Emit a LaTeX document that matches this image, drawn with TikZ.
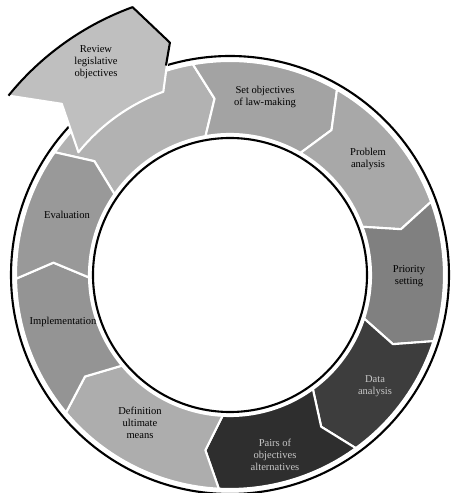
\documentclass[tikz,border=0pt]{standalone}
\usepackage{fontspec}
\setmainfont{Liberation Serif}

\begin{document}
\begin{tikzpicture}[
  x=0.02cm, y=0.02cm,
  every node/.style={font=\fontsize{6}{6.8}\selectfont, align=center},
  seg/.style={draw=white, line width=1.2pt, line join=round},
  rim/.style={draw=black, line width=1.2pt},
  lbl/.style={text=black},
  lbldark/.style={text=black!22}
]
  \useasboundingbox (-230,-218) rectangle (224,275);

  % ring of steps
  \draw[rim, fill=white] (0,0) circle[radius=219];
  \foreach \ta/\hd/\tone in {145/100/30, 100/60/36, 60/20/34, 20/-18/50, -18/-54/76, -54/-93/82, -93/-140/32, -140/-179/42, 181/145/40}
    \filldraw[seg, fill=black!\tone] (\ta:214) arc[start angle=\ta, end angle=\hd, radius=214]
      -- ({\hd-5}:177) -- (\hd:141) arc[start angle=\hd, end angle=\ta, radius=141]
      -- ({\ta-5}:177) -- cycle;
  \draw[rim, fill=white] (0,0) circle[radius=137];

  % review arrow leaving the ring
  \filldraw[seg, fill=black!25] (141:285) arc[start angle=141, end angle=110, radius=285]
    -- (104.5:240) -- (110:195) arc[start angle=110, end angle=141, radius=195]
    -- (134.5:240) -- cycle;
  \draw[rim, line join=round] (141:285) arc[start angle=141, end angle=110, radius=285]
    -- (104.5:240) -- (107:219);

  \node[lbl] (review) at (-134,213) {Review\\legislative\\objectives};
  \node[lbl] (setobj) at (35,178) {Set objectives\\of law-making};
  \node[lbl] (problem) at (138,116) {Problem\\analysis};
  \node[lbl] (priority) at (179,-1) {Priority\\setting};
  \node[lbldark] (data) at (145,-111) {Data\\analysis};
  \node[lbldark] (pairs) at (45,-180) {Pairs of\\objectives\\alternatives};
  \node[lbl] (means) at (-90,-148) {Definition\\ultimate\\means};
  \node[lbl] (implement) at (-167,-47) {Implementation};
  \node[lbl] (evaluation) at (-163,60) {Evaluation};
\end{tikzpicture}
\end{document}
